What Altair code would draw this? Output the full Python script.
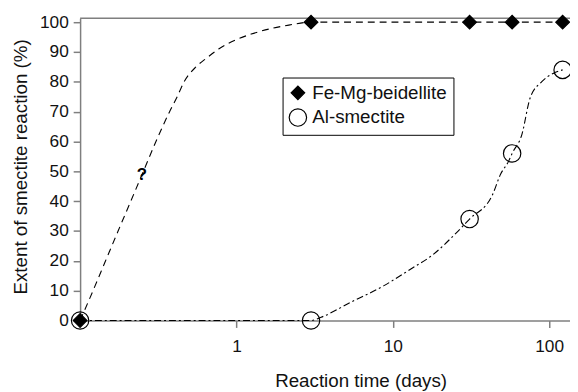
import altair as alt
import pandas as pd

# --- data ---
series_names = ["Fe-Mg-beidellite", "Al-smectite"]

fe_days = [0.1, 3, 31, 58, 122]
fe_pct = [0, 100, 100, 100, 100]

al_days = [0.1, 3, 31, 58, 122]
al_pct = [0, 0, 34, 56, 84]

# fitted curves as drawn in the figure
fe_curve_days = [0.1, 0.121, 0.1455, 0.175, 0.211, 0.254, 0.3056, 0.3369, 0.3735, 0.4178, 0.4626,
                 0.5508, 0.6462, 0.7698, 0.9856, 1.244, 1.713, 2.162, 3, 31, 58, 122]
fe_curve_pct = [0, 10, 20, 30, 40, 50, 60, 65, 70, 75, 80,
                85, 88, 91, 94, 96, 98, 99, 100, 100, 100, 100]

al_curve_days = [0.1, 3, 3.48, 5.38, 8.73, 12.9, 18.1, 25.4, 31, 43.3, 48.9, 55.2, 58, 67, 75.5, 89.5, 106, 122]
al_curve_pct = [0, 0, 1.1, 6.1, 11.6, 17.1, 22.1, 29.3, 34, 42, 49, 53.5, 56, 62.4, 74.5, 80, 82.8, 84]

question_days = [0.248]
question_pct = [48.6]

x_ticks = [1, 10, 100]
y_ticks = [0, 10, 20, 30, 40, 50, 60, 70, 80, 90, 100]
x_domain = [0.1, 136]
y_domain = [0, 101.3]

FONT = "Liberation Sans"
FRAME = "#7f7f7f"

points = pd.DataFrame(
    {
        "days": fe_days + al_days,
        "pct": fe_pct + al_pct,
        "series": [series_names[0]] * len(fe_days) + [series_names[1]] * len(al_days),
    }
)
fe_curve = pd.DataFrame({"days": fe_curve_days, "pct": fe_curve_pct})
al_curve = pd.DataFrame({"days": al_curve_days, "pct": al_curve_pct})
question = pd.DataFrame({"days": question_days, "pct": question_pct, "top": [y_domain[1]]})

x_scale = alt.Scale(type="log", domain=x_domain, nice=False)
y_scale = alt.Scale(domain=y_domain, nice=False, zero=False)

x_axis = alt.Axis(
    values=x_ticks,
    format="d",
    labelPadding=10,
    labelOverlap=False,
    titleX=284,
    titleY=67,
    titleBaseline="alphabetic",
)
y_axis = alt.Axis(
    values=y_ticks,
    tickCount=11,
    labelPadding=5,
    labelOverlap=False,
    titleX=-54,
    titleY=150,
    titleBaseline="alphabetic",
    titleAngle=270,
)

X_TITLE = "Reaction time (days)"
Y_TITLE = "Extent of smectite reaction (%)"


def enc_x():
    return alt.X("days:Q", scale=x_scale, axis=x_axis, title=X_TITLE)


def enc_y(field="pct"):
    return alt.Y(f"{field}:Q", scale=y_scale, axis=y_axis, title=Y_TITLE)


fe_line = alt.Chart(fe_curve).mark_line(
    color="black", strokeWidth=1.1, strokeDash=[7, 5], interpolate="monotone"
).encode(x=enc_x(), y=enc_y(), order="days:Q")

al_line = alt.Chart(al_curve).mark_line(
    color="black", strokeWidth=1.1, strokeDash=[7, 3, 2, 3], interpolate="monotone"
).encode(x=enc_x(), y=enc_y(), order="days:Q")

pts = alt.Chart(points).mark_point(strokeWidth=1.2, opacity=1).encode(
    x=enc_x(),
    y=enc_y(),
    shape=alt.Shape(
        "series:N",
        scale=alt.Scale(domain=series_names, range=["diamond", "circle"]),
        legend=alt.Legend(title=None),
    ),
    fill=alt.Fill(
        "series:N",
        scale=alt.Scale(domain=series_names, range=["black", "transparent"]),
        legend=alt.Legend(title=None),
    ),
    stroke=alt.Stroke(
        "series:N",
        scale=alt.Scale(domain=series_names, range=["black", "black"]),
        legend=alt.Legend(title=None),
    ),
    size=alt.Size(
        "series:N",
        scale=alt.Scale(domain=series_names, range=[190, 310]),
        legend=alt.Legend(title=None),
    ),
)

qmark = alt.Chart(question).mark_text(
    text="?", font=FONT, fontSize=17, fontWeight="bold", color="black", baseline="middle"
).encode(x=enc_x(), y=enc_y())

top_rule = alt.Chart(question).mark_rule(color=FRAME, strokeWidth=1.5).encode(
    y=enc_y("top")
)

chart = (
    alt.layer(fe_line, al_line, top_rule, pts, qmark)
    .properties(
        width=496,
        height=306,
        autosize=alt.AutoSizeParams(type="none"),
        padding={"left": 73, "top": 8, "right": 0, "bottom": 70},
    )
    .configure_view(stroke=None)
    .configure_axis(
        grid=False,
        domainColor=FRAME,
        domainWidth=1.5,
        tickColor=FRAME,
        tickWidth=1.5,
        tickSize=7,
        labelFont=FONT,
        labelFontSize=17.5,
        labelColor="#111111",
        titleFont=FONT,
        titleFontSize=19,
        titleFontWeight="normal",
        titleColor="#111111",
    )
    .configure_legend(
        orient="none",
        legendX=205,
        legendY=60,
        strokeColor="black",
        fillColor="white",
        padding=6,
        labelFont=FONT,
        labelFontSize=19,
        labelColor="#111111",
        labelOffset=5,
        rowPadding=3,
        symbolStrokeWidth=1.2,
    )
)

chart.save("out.html", embed_options={"renderer": "svg", "actions": False})
